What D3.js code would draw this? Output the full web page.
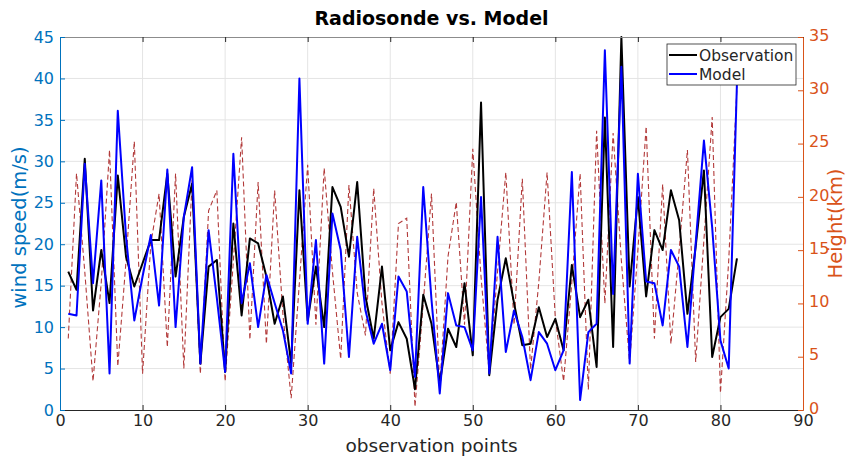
<!DOCTYPE html>
<html>
<head>
<meta charset="utf-8">
<script src="https://cdn.jsdelivr.net/npm/d3@7"></script>
<style>
  body { margin: 0; background: #fff; }
  text { font-family: "DejaVu Sans", sans-serif; }
</style>
</head>
<body>
<svg id="chart" width="854" height="456"></svg>
<script>
// wind speed observed by radiosonde (m/s)
const observation = [16.7, 14.5, 30.3, 12.0, 19.3, 12.9, 28.3, 18.5, 14.9, 17.7,
  20.5, 20.5, 28.5, 16.1, 23.3, 27.3, 5.6, 17.3, 18.1, 4.6,
  22.5, 11.4, 20.7, 20.1, 16.1, 10.4, 13.7, 5.6, 26.5, 10.8,
  17.3, 10.0, 26.9, 24.5, 18.5, 27.5, 13.7, 8.6, 17.3, 7.2,
  10.6, 8.6, 2.5, 13.9, 10.4, 3.2, 9.8, 7.6, 15.3, 6.6,
  37.1, 4.2, 13.3, 18.3, 12.9, 7.8, 8.0, 12.4, 8.8, 11.0,
  7.2, 17.5, 11.2, 13.3, 5.2, 35.3, 7.6, 45.0, 14.9, 25.7,
  13.7, 21.7, 19.3, 26.5, 22.9, 11.6, 19.7, 28.9, 6.4, 11.2,
  12.2, 18.3];

// wind speed from the model (m/s)
const model = [11.6, 11.4, 29.7, 15.3, 27.7, 4.4, 36.1, 20.9, 10.8, 16.1,
  21.1, 12.6, 29.0, 10.0, 23.3, 29.3, 5.6, 21.7, 13.5, 4.6,
  30.9, 12.9, 17.7, 10.0, 16.3, 12.9, 9.6, 4.4, 40.0, 10.4,
  20.5, 5.6, 23.7, 19.3, 6.4, 20.9, 12.0, 8.0, 10.4, 4.8,
  16.1, 14.3, 4.0, 26.9, 13.3, 2.0, 14.1, 10.2, 10.0, 7.2,
  25.7, 4.4, 20.9, 7.0, 12.0, 8.8, 3.6, 9.4, 8.0, 4.8,
  7.2, 28.7, 1.2, 9.4, 10.4, 43.4, 14.0, 41.4, 5.6, 28.5,
  15.5, 15.3, 10.2, 19.3, 17.3, 7.6, 20.1, 32.5, 22.0, 8.4,
  5.0, 39.5];

// height of each observation point (km), right axis
const heightKm = [6.7, 22.2, 13.0, 2.7, 12.0, 24.4, 4.1, 14.0, 25.2, 3.4,
  15.6, 20.3, 5.9, 22.2, 3.9, 21.6, 3.4, 18.7, 20.6, 2.7,
  14.0, 25.6, 6.6, 21.4, 6.2, 20.6, 9.0, 1.1, 12.0, 23.0,
  8.0, 22.7, 13.0, 4.8, 21.1, 11.0, 7.0, 20.8, 10.0, 3.4,
  17.5, 18.0, 0.3, 10.0, 20.3, 2.2, 14.4, 19.5, 8.0, 24.5,
  12.5, 3.4, 13.0, 22.3, 8.0, 21.7, 3.8, 12.0, 22.3, 8.6,
  2.7, 12.0, 22.2, 1.9, 26.2, 10.0, 26.0, 14.0, 4.4, 15.0,
  26.6, 6.7, 21.2, 6.2, 15.0, 24.4, 4.5, 16.0, 27.5, 1.6,
  14.0, 30.3];

const xTicks = [0, 10, 20, 30, 40, 50, 60, 70, 80, 90];
const speedTicks = [0, 5, 10, 15, 20, 25, 30, 35, 40, 45];
const heightTicks = [0, 5, 10, 15, 20, 25, 30, 35];

(function() {
    const svg = d3.select("#chart");
    const plot = {left: 60, right: 803, top: 37, bottom: 410};
    const blueAxis = "#0072BD", orangeAxis = "#D95319", dark = "#262626";

    const x = d3.scaleLinear().domain([0, 90]).range([plot.left, plot.right]);
    const yL = d3.scaleLinear().domain([0, 45]).range([plot.bottom, plot.top]);
    const yR = d3.scaleLinear().domain([0, 35]).range([plot.bottom, plot.top]);

    // grid
    const grid = svg.append("g").attr("stroke", "#e4e4e4").attr("stroke-width", 1);
    grid.selectAll(".gx").data(xTicks.slice(1, -1)).join("line")
        .attr("x1", d => x(d)).attr("x2", d => x(d))
        .attr("y1", plot.top).attr("y2", plot.bottom);
    grid.selectAll(".gy").data(speedTicks.slice(1, -1)).join("line")
        .attr("x1", plot.left).attr("x2", plot.right)
        .attr("y1", d => yL(d)).attr("y2", d => yL(d));

    // series
    const lineL = d3.line().x((d, i) => x(i + 1)).y(d => yL(d));
    const lineR = d3.line().x((d, i) => x(i + 1)).y(d => yR(d));

    svg.append("path")
        .attr("d", lineR(heightKm))
        .attr("fill", "none")
        .attr("stroke", "#b23a3a")
        .attr("stroke-width", 1.1)
        .attr("stroke-dasharray", "5,3");

    svg.append("path")
        .attr("d", lineL(observation))
        .attr("fill", "none")
        .attr("stroke", "#000")
        .attr("stroke-width", 2)
        .attr("stroke-linejoin", "round");

    svg.append("path")
        .attr("d", lineL(model))
        .attr("fill", "none")
        .attr("stroke", "#0000ff")
        .attr("stroke-width", 2)
        .attr("stroke-linejoin", "round");

    // axes
    function styleAxis(g, color) {
        g.select(".domain").attr("stroke", color);
        g.selectAll(".tick line").attr("stroke", color);
        g.selectAll(".tick text").attr("fill", color)
            .style("font-family", "'DejaVu Sans', sans-serif")
            .style("font-size", "16px");
    }

    svg.append("g")
        .attr("transform", `translate(0,${plot.bottom})`)
        .call(d3.axisBottom(x).tickValues(xTicks).tickSizeInner(-5).tickSizeOuter(0).tickPadding(5))
        .call(g => styleAxis(g, dark));

    svg.append("g")
        .attr("transform", `translate(0,${plot.top})`)
        .call(d3.axisTop(x).tickValues(xTicks).tickSizeInner(-5).tickSizeOuter(0).tickFormat(""))
        .call(g => styleAxis(g, dark))
        .call(g => g.select(".domain").attr("stroke", "#8c8c8c"));

    svg.append("g")
        .attr("transform", `translate(${plot.left},0)`)
        .call(d3.axisLeft(yL).tickValues(speedTicks).tickSizeInner(-5).tickSizeOuter(0).tickPadding(6))
        .call(g => styleAxis(g, blueAxis));

    svg.append("g")
        .attr("transform", `translate(${plot.right},0)`)
        .call(d3.axisRight(yR).tickValues(heightTicks).tickSizeInner(-5).tickSizeOuter(0).tickPadding(6))
        .call(g => styleAxis(g, orangeAxis))
        .call(g => g.selectAll(".tick text").attr("dy", "0.2em"));

    // labels
    const midX = (plot.left + plot.right) / 2, midY = (plot.top + plot.bottom) / 2;

    svg.append("text")
        .attr("x", midX).attr("y", 25)
        .attr("text-anchor", "middle")
        .style("font-size", "19px").style("font-weight", "bold")
        .attr("fill", "#000")
        .text("Radiosonde vs. Model");

    svg.append("text")
        .attr("x", midX).attr("y", 452)
        .attr("text-anchor", "middle")
        .style("font-size", "18.5px")
        .attr("fill", dark)
        .text("observation points");

    svg.append("text")
        .attr("transform", `translate(26,${midY + 4}) rotate(-90)`)
        .attr("text-anchor", "middle")
        .style("font-size", "19.5px")
        .attr("fill", blueAxis)
        .text("wind speed(m/s)");

    svg.append("text")
        .attr("transform", `translate(842,${midY}) rotate(-90)`)
        .attr("text-anchor", "middle")
        .style("font-size", "19.5px")
        .attr("fill", orangeAxis)
        .text("Height(km)");

    // legend
    const legendItems = [
        {name: "Observation", color: "#000"},
        {name: "Model", color: "#0000ff"}
    ];
    const legend = svg.append("g").attr("transform", "translate(667,44)");
    legend.append("rect")
        .attr("width", 129).attr("height", 41)
        .attr("fill", "#fff").attr("stroke", dark).attr("stroke-width", 0.8);
    const li = legend.selectAll(".item").data(legendItems).join("g")
        .attr("transform", (d, i) => `translate(0,${11 + i * 19})`);
    li.append("line")
        .attr("x1", 2).attr("x2", 30)
        .attr("stroke", d => d.color).attr("stroke-width", 2);
    li.append("text")
        .attr("x", 32).attr("y", 5.5)
        .style("font-size", "15.5px")
        .attr("fill", dark)
        .text(d => d.name);
})();
</script>
</body>
</html>
